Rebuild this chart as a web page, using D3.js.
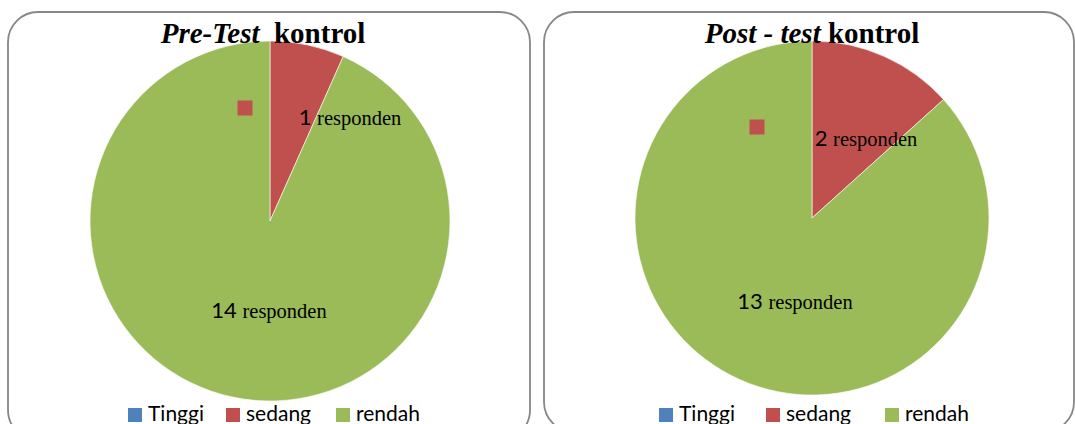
<!DOCTYPE html>
<html><head><meta charset="utf-8">
<script src="https://cdn.jsdelivr.net/npm/d3@7/dist/d3.min.js"></script>
<style>body{margin:0;background:#fff}svg{display:block}</style>
</head><body>
<svg id="c" width="1075" height="424"></svg>
<script>
const categories = ["Tinggi", "sedang", "rendah"];
const preValues = [0, 1, 14];
const postValues = [0, 2, 13];
const titlesItalic = ["Pre-Test", "Post - test"];
const titlesBold = ["\u00a0 kontrol", " kontrol"];
const unitLabel = "responden";
const colors = ["#4F81BD", "#C0504D", "#9BBB59"];

const svg = d3.select("#c");
const panels = [
  {x: 8, y: 12, w: 522, h: 428, cx: 270, cy: 221, r: 180, values: preValues, tx: 263,
   lab: {1: [80, -96], 2: [-1, 97]}, key: [-25, -113], legX: 128},
  {x: 544, y: 12, w: 530, h: 420, cx: 812, cy: 218, r: 177, values: postValues, tx: 812,
   lab: {1: [54, -72], 2: [-17, 91]}, key: [-55, -91], legX: 659}
];

const pie = d3.pie().sort(null).value(d => d);

panels.forEach((p, pi) => {
  const g = svg.append("g");
  g.append("rect").attr("x", p.x).attr("y", p.y).attr("width", p.w).attr("height", p.h)
    .attr("rx", 30).attr("ry", 30).attr("fill", "#fff").attr("stroke", "#878787").attr("stroke-width", 1.8);

  const arc = d3.arc().innerRadius(0).outerRadius(p.r);
  const pg = g.append("g").attr("transform", `translate(${p.cx},${p.cy})`);
  const arcs = pie(p.values);
  pg.selectAll("path").data(arcs).join("path")
    .attr("d", arc).attr("fill", (d, i) => colors[i])
    .attr("stroke", "#fff").attr("stroke-width", d => d.value > 0 ? 0.6 : 0);

  // legend key marker (from sedang label)
  pg.append("rect").attr("x", p.key[0] - 7.5).attr("y", p.key[1] - 7.5)
    .attr("width", 15).attr("height", 15).attr("fill", colors[1]);

  arcs.forEach((d, i) => {
    if (!d.value) return;
    const off = p.lab[i];
    const t = pg.append("text").attr("x", off[0]).attr("y", off[1])
      .attr("text-anchor", "middle").attr("fill", "#000");
    t.append("tspan").attr("font-family", "Lato, 'Open Sans', sans-serif").attr("font-size", 22)
      .text(d.value + " ");
    t.append("tspan").attr("font-family", "'Liberation Serif', 'Times New Roman', serif").attr("font-size", 20.5)
      .text(unitLabel);
  });

  const title = g.append("text").attr("x", p.tx).attr("y", 43).attr("text-anchor", "middle")
    .attr("font-family", "'Liberation Serif', 'Times New Roman', serif").attr("font-size", 29)
    .attr("font-weight", "bold").attr("fill", "#000");
  title.append("tspan").attr("font-style", "italic").text(titlesItalic[pi]);
  title.append("tspan").text(titlesBold[pi]);

  // legend
  const legOffsets = pi === 0 ? [0, 98, 208] : [0, 107, 226];
  categories.forEach((c, i) => {
    const lx = p.legX + legOffsets[i];
    g.append("rect").attr("x", lx).attr("y", 408).attr("width", 14).attr("height", 14).attr("fill", colors[i]);
    g.append("text").attr("x", lx + 20).attr("y", 421)
      .attr("font-family", "Lato, 'Open Sans', sans-serif").attr("font-size", 21).attr("fill", "#000").text(c);
  });
});
</script>
</body></html>
